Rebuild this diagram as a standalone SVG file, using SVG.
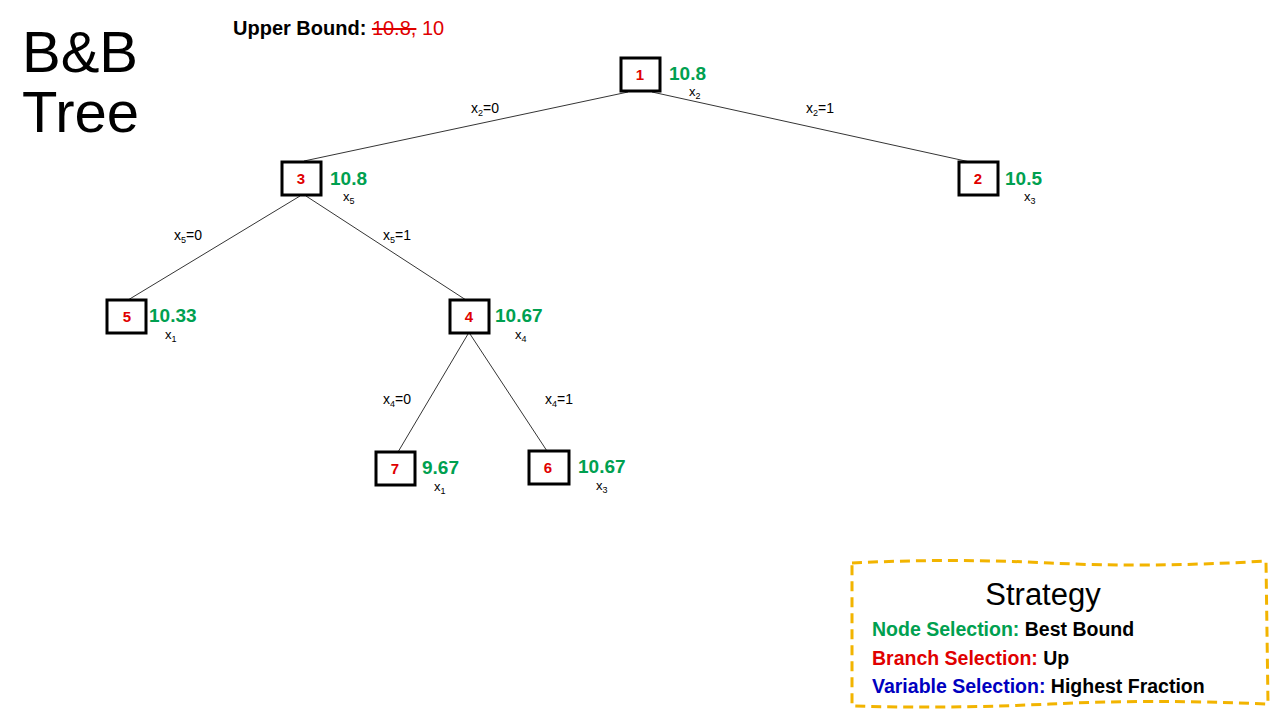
<svg xmlns="http://www.w3.org/2000/svg" width="1280" height="720" viewBox="0 0 1280 720">
<style>
text{font-family:"Liberation Sans","DejaVu Sans",sans-serif}
.box{fill:#fff;stroke:#000;stroke-width:3}
.id{fill:#e00000;font-weight:bold;font-size:15px;text-anchor:middle}
.val{fill:#00a050;font-weight:bold;font-size:19px}
.var{font-size:13px;fill:#000}
.sub{font-size:9px}
.lbl{font-size:14px;fill:#000}
.e{stroke:#000;stroke-width:0.8;fill:none}
.s{font-size:19.5px;font-weight:bold}
</style>
<rect width="1280" height="720" fill="#fff"/>
<text x="22" y="72" font-size="58" font-family="Open Sans,Liberation Sans,sans-serif">B&amp;B</text>
<text x="22" y="132" font-size="58" font-family="Open Sans,Liberation Sans,sans-serif">Tree</text>
<text x="233" y="35" font-size="20" font-weight="bold">Upper Bound: <tspan fill="#e00000" font-weight="normal" text-decoration="line-through">10.8,</tspan><tspan fill="#e00000" font-weight="normal"> 10</tspan></text>
<g id="connectors">
<line class="e" x1="628" y1="92" x2="304" y2="161"/>
<line class="e" x1="652" y1="92" x2="970" y2="162"/>
<line class="e" x1="300" y1="196" x2="128" y2="300"/>
<line class="e" x1="306" y1="196" x2="466" y2="300"/>
<line class="e" x1="468" y1="334" x2="398" y2="452"/>
<line class="e" x1="470" y1="334" x2="547" y2="451"/>
<text class="lbl" x="471" y="113">x<tspan class="sub" dy="3">2</tspan><tspan dy="-3">=0</tspan></text>
<text class="lbl" x="806" y="113">x<tspan class="sub" dy="3">2</tspan><tspan dy="-3">=1</tspan></text>
<text class="lbl" x="174" y="240">x<tspan class="sub" dy="3">5</tspan><tspan dy="-3">=0</tspan></text>
<text class="lbl" x="383" y="240">x<tspan class="sub" dy="3">5</tspan><tspan dy="-3">=1</tspan></text>
<text class="lbl" x="383" y="404">x<tspan class="sub" dy="3">4</tspan><tspan dy="-3">=0</tspan></text>
<text class="lbl" x="545" y="404">x<tspan class="sub" dy="3">4</tspan><tspan dy="-3">=1</tspan></text>
</g>
<g id="n1"><rect class="box" x="621" y="58" width="39" height="33"/><text class="id" x="640" y="80">1</text><text class="val" x="669" y="80">10.8</text><text class="var" x="689" y="96">x<tspan class="sub" dy="3">2</tspan></text></g>
<g id="n2"><rect class="box" x="959" y="162" width="39" height="33"/><text class="id" x="978" y="184">2</text><text class="val" x="1005" y="185">10.5</text><text class="var" x="1024" y="201">x<tspan class="sub" dy="3">3</tspan></text></g>
<g id="n3"><rect class="box" x="282" y="162" width="39" height="33"/><text class="id" x="301" y="184">3</text><text class="val" x="330" y="185">10.8</text><text class="var" x="343" y="201">x<tspan class="sub" dy="3">5</tspan></text></g>
<g id="n5"><rect class="box" x="107" y="300" width="39" height="33"/><text class="id" x="127" y="322">5</text><text class="val" x="149" y="322">10.33</text><text class="var" x="165" y="339">x<tspan class="sub" dy="3">1</tspan></text></g>
<g id="n4"><rect class="box" x="450" y="300" width="39" height="33"/><text class="id" x="469" y="322">4</text><text class="val" x="495" y="322">10.67</text><text class="var" x="515" y="339">x<tspan class="sub" dy="3">4</tspan></text></g>
<g id="n7"><rect class="box" x="376" y="452" width="39" height="33"/><text class="id" x="395" y="474">7</text><text class="val" x="422" y="474">9.67</text><text class="var" x="434" y="491">x<tspan class="sub" dy="3">1</tspan></text></g>
<g id="n6"><rect class="box" x="529" y="451" width="40" height="33"/><text class="id" x="548" y="473">6</text><text class="val" x="578" y="473">10.67</text><text class="var" x="596" y="490">x<tspan class="sub" dy="3">3</tspan></text></g>
<g id="strategy">
<path d="M852,563 Q950,558 1050,563 T1266,561 L1268,704 Q1150,699 1050,704 T852,706 Z" fill="none" stroke="#f2b400" stroke-width="3" stroke-dasharray="10,6"/>
<text x="1043" y="605" font-size="31" text-anchor="middle" font-family="Open Sans,Liberation Sans,sans-serif">Strategy</text>
<text class="s" x="872" y="636"><tspan fill="#00a050">Node Selection:</tspan> Best Bound</text>
<text class="s" x="872" y="665"><tspan fill="#e00000">Branch Selection:</tspan> Up</text>
<text class="s" x="872" y="693"><tspan fill="#0000c0">Variable Selection:</tspan> Highest Fraction</text>
</g>
</svg>
